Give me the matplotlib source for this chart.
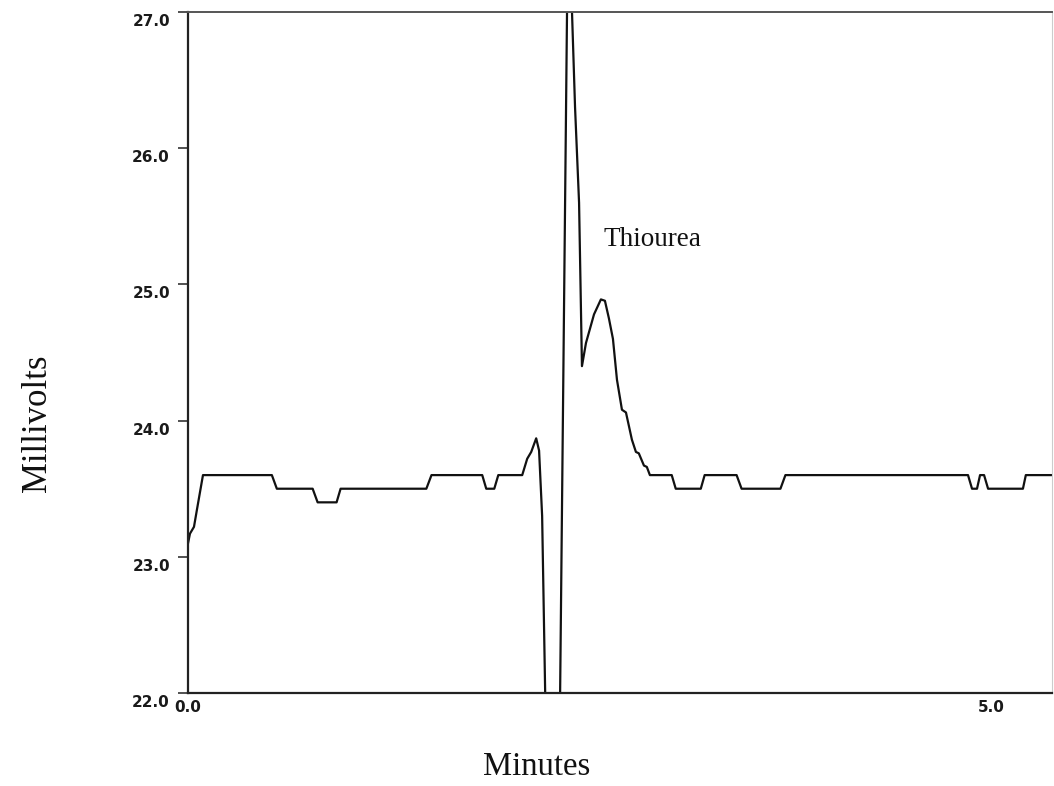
import numpy as np
import matplotlib.pyplot as plt
import matplotlib.transforms as mtransforms

# detector trace, minutes vs millivolts
minutes = [0.0, 0.012, 0.037, 0.056, 0.093, 0.522, 0.553, 0.776, 0.807, 0.925,
           0.950, 1.484, 1.516, 1.832, 1.857, 1.907, 1.932, 2.081, 2.112, 2.137,
           2.168, 2.186, 2.205, 2.224, 2.236, 2.267, 2.304, 2.317, 2.360, 2.373,
           2.391, 2.410, 2.435, 2.453, 2.478, 2.528, 2.571, 2.596, 2.621, 2.646,
           2.671, 2.702, 2.727, 2.764, 2.789, 2.807, 2.839, 2.857, 2.876, 3.012,
           3.037, 3.193, 3.217, 3.416, 3.447, 3.689, 3.720, 4.857, 4.882, 4.913,
           4.932, 4.957, 4.982, 5.199, 5.217, 5.380]
millivolts = [23.10, 23.17, 23.22, 23.35, 23.60, 23.60, 23.50, 23.50, 23.40, 23.40,
              23.50, 23.50, 23.60, 23.60, 23.50, 23.50, 23.60, 23.60, 23.72, 23.77,
              23.87, 23.78, 23.30, 22.00, 21.50, 21.00, 21.50, 22.00, 27.00, 27.40,
              27.00, 26.30, 25.60, 24.40, 24.57, 24.78, 24.89, 24.88, 24.75, 24.60,
              24.30, 24.08, 24.06, 23.86, 23.77, 23.76, 23.67, 23.66, 23.60, 23.60,
              23.50, 23.50, 23.60, 23.60, 23.50, 23.50, 23.60, 23.60, 23.50, 23.50,
              23.60, 23.60, 23.50, 23.50, 23.60, 23.60]

y_ticks = [22.0, 23.0, 24.0, 25.0, 26.0, 27.0]
x_ticks = [0.0, 5.0]
peak_label = "Thiourea"

fig = plt.figure(figsize=(10.54, 7.86), dpi=100)
ax = fig.add_axes([0.1784, 0.1183, 0.8197, 0.8664])

ax.plot(minutes, millivolts, color="#111111", lw=1.6)
ax.set_xlim(0, 5.38)
ax.set_ylim(22, 27)

for side in ["left", "bottom"]:
    ax.spines[side].set_color("#222222")
    ax.spines[side].set_linewidth(1.6)
ax.spines["top"].set_color("#555555")
ax.spines["top"].set_linewidth(1.4)
ax.spines["right"].set_color("#cccccc")
ax.spines["right"].set_linewidth(0.8)

ax.set_yticks(y_ticks)
ax.set_yticklabels(["%.1f" % v for v in y_ticks])
ax.set_xticks(x_ticks)
ax.set_xticklabels(["%.1f" % v for v in x_ticks])
ax.tick_params(axis="y", length=7, width=1.2, color="#333333", pad=6,
               labelsize=11)
ax.tick_params(axis="x", length=0, pad=5, labelsize=11)
for lab in ax.get_yticklabels() + ax.get_xticklabels():
    lab.set_fontweight("heavy")
    lab.set_color("#1a1a1a")

# y labels sit a little below their ticks
shift = mtransforms.ScaledTranslation(0, -0.08, fig.dpi_scale_trans)
for lab in ax.get_yticklabels():
    lab.set_transform(lab.get_transform() + shift)

ax.text(2.59, 25.33, peak_label, family="Liberation Serif", fontsize=19.5,
        ha="left", va="center", color="#111111")

fig.text(0.036, 0.462, "Millivolts", family="Liberation Serif", fontsize=25,
         rotation=90, ha="center", va="center", color="#111111")
fig.text(0.509, 0.025, "Minutes", family="Liberation Serif", fontsize=23.5,
         ha="center", va="center", color="#111111")

fig.savefig("out.png", dpi=100)
